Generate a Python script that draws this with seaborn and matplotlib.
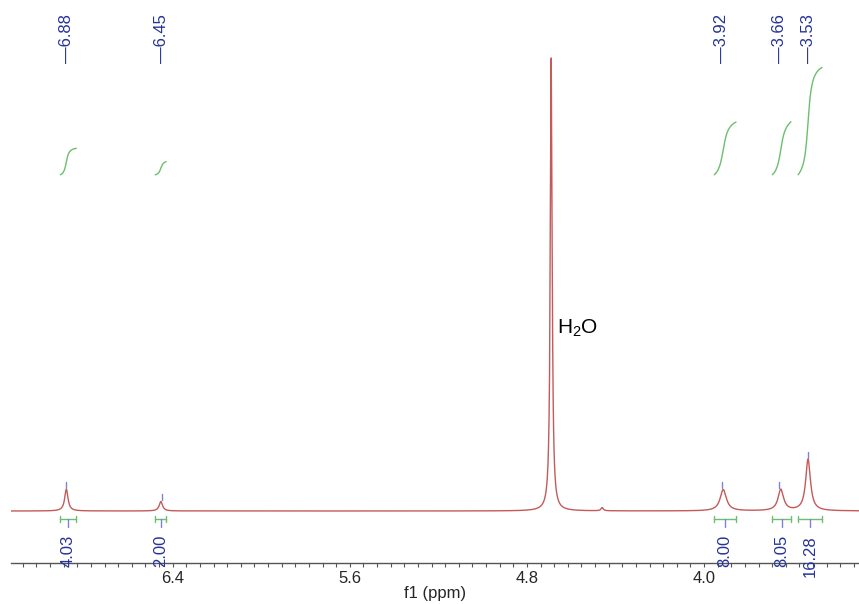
import numpy as np
import pandas as pd
import matplotlib
matplotlib.use("Agg")
import matplotlib.pyplot as plt
import seaborn as sns
from matplotlib.ticker import MultipleLocator, FormatStrFormatter

# -----------------------------
# DATA
# -----------------------------
peak_ppm = [6.88, 6.453, 4.69, 4.46, 3.913, 3.653, 3.530]
peak_height = [4.8, 2.1, 100.0, 0.7, 4.7, 4.7, 11.4]
peak_hwhm = [0.009, 0.009, 0.005, 0.006, 0.017, 0.015, 0.013]

label_ppm = [6.88, 6.45, 3.92, 3.66, 3.53]
label_text = ["6.88", "6.45", "3.92", "3.66", "3.53"]
label_top = [4.8, 2.1, 4.7, 4.7, 11.4]

integral_start = [6.907, 6.479, 3.954, 3.692, 3.575]
integral_end = [6.835, 6.429, 3.855, 3.607, 3.467]
integral_value = [4.03, 2.00, 8.00, 8.05, 16.28]

water_ppm = 4.666
water_label = "H$_2$O"

# -----------------------------
# SETTINGS
# -----------------------------
sns.set_theme(style="white")
plt.rcParams["font.family"] = ["Liberation Sans", "DejaVu Sans"]
plt.rcParams["mathtext.fontset"] = "custom"
plt.rcParams["mathtext.rm"] = "Liberation Sans"
plt.rcParams["mathtext.it"] = "Liberation Sans:italic"

red = "#c45a5a"
green = "#6cbf6c"
blue = "#24329a"
light_blue = "#7b83d6"

# -----------------------------
# BUILD SPECTRUM
# -----------------------------
ppm = np.linspace(3.30, 7.13, 8000)
intensity = np.zeros_like(ppm)
for c, h, w in zip(peak_ppm, peak_height, peak_hwhm):
    intensity += h * w**2 / ((ppm - c) ** 2 + w**2)
spec = pd.DataFrame({"ppm": ppm, "intensity": intensity})

# -----------------------------
# PLOT
# -----------------------------
fig = plt.figure(figsize=(8.59, 6.04), dpi=100)
ax = fig.add_axes([11 / 859, 41 / 604, 848 / 859, 563 / 604])

sns.lineplot(data=spec, x="ppm", y="intensity", color=red, lw=1.0,
             errorbar=None, ax=ax)

# integral curves + brackets + values
int_base = 74.2
int_scale = 1.457
for s, e, v in zip(integral_start, integral_end, integral_value):
    seg = spec[(spec["ppm"] <= s) & (spec["ppm"] >= e)].sort_values("ppm", ascending=False)
    cum = seg["intensity"].cumsum()
    cum = cum / cum.iloc[-1]
    curve = pd.DataFrame({"ppm": seg["ppm"], "y": int_base + cum * v * int_scale})
    sns.lineplot(data=curve, x="ppm", y="y", color=green, lw=1.0,
                 errorbar=None, sort=False, ax=ax)
    ax.plot([s, e], [-1.77, -1.77], color=green, lw=1.0)
    ax.plot([s, s], [-2.4, -1.1], color=green, lw=1.0)
    ax.plot([e, e], [-2.4, -1.1], color=green, lw=1.0)
    mid = (s + e) / 2
    ax.plot([mid, mid], [-1.77, -3.6], color=light_blue, lw=1.0)
    ax.text(mid, -5.3, f"{v:.2f}", rotation=90, ha="center", va="top",
            color=blue, fontsize=12)

# peak labels
for p, t, h in zip(label_ppm, label_text, label_top):
    ax.plot([p, p], [h + 0.3, h + 1.6], color=light_blue, lw=1.0)
    ax.text(p, 109.7, "\u2014" + t, rotation=90, ha="center", va="top",
            color=blue, fontsize=12)

ax.text(water_ppm, 40.4, water_label, ha="left", va="center",
        color="black", fontsize=15)

# axes
ax.set_xlim(7.13, 3.30)
ax.set_ylim(-11.48, 112.8)
ax.xaxis.set_major_locator(MultipleLocator(0.8))
ax.xaxis.set_minor_locator(MultipleLocator(0.8 / 13))
ax.xaxis.set_major_formatter(FormatStrFormatter("%.1f"))
ax.tick_params(axis="x", which="both", bottom=True, direction="out",
               length=3, width=0.8, color="#555555", labelsize=12, pad=2.5)
ax.set_yticks([])
for side in ["left", "top", "right"]:
    ax.spines[side].set_visible(False)
ax.spines["bottom"].set_color("#555555")
ax.spines["bottom"].set_linewidth(1.0)
ax.set_xlabel("f1 (ppm)", fontsize=12, labelpad=0)
ax.set_ylabel("")

fig.savefig("out.png", dpi=100)
